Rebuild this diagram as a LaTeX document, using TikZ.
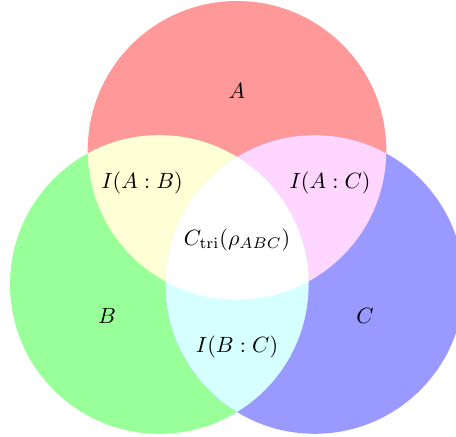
\documentclass[tikz,border=0pt]{standalone}
\definecolor{colA}{rgb}{1,0.6,0.6}
\definecolor{colB}{rgb}{0.6,1,0.6}
\definecolor{colC}{rgb}{0.6,0.6,1}
\definecolor{colAB}{rgb}{1,1,0.84}
\definecolor{colAC}{rgb}{1,0.84,1}
\definecolor{colBC}{rgb}{0.84,1,1}
\begin{document}
\begin{tikzpicture}[x=0.453pt,y=-0.453pt,lbl/.style={inner sep=0pt}]
\useasboundingbox (0,0) rectangle (456,437);
\def\rr{149.3}
\coordinate (ca) at (237,150.3);
\coordinate (cb) at (159.3,284.5);
\coordinate (cc) at (314.7,284.5);
\fill[colA] (ca) circle[radius=\rr];
\fill[colB] (cb) circle[radius=\rr];
\fill[colC] (cc) circle[radius=\rr];
\begin{scope}
\clip (ca) circle[radius=\rr];
\fill[colAB] (cb) circle[radius=\rr];
\fill[colAC] (cc) circle[radius=\rr];
\end{scope}
\begin{scope}
\clip (cb) circle[radius=\rr];
\fill[colBC] (cc) circle[radius=\rr];
\end{scope}
\begin{scope}
\clip (ca) circle[radius=\rr];
\clip (cb) circle[radius=\rr];
\fill[white] (cc) circle[radius=\rr];
\end{scope}
\node[lbl] (la) at (237,91) {$A$};
\node[lbl] (lb) at (107,316) {$B$};
\node[lbl] (lc) at (365,316) {$C$};
\node[lbl] (lab) at (142,183) {$I(A:B)$};
\node[lbl] (lac) at (330,183) {$I(A:C)$};
\node[lbl] (lbc) at (237,347) {$I(B:C)$};
\node[lbl] (labc) at (237,240) {$C_{\mathrm{tri}}(\rho_{ABC})$};
\end{tikzpicture}
\end{document}
